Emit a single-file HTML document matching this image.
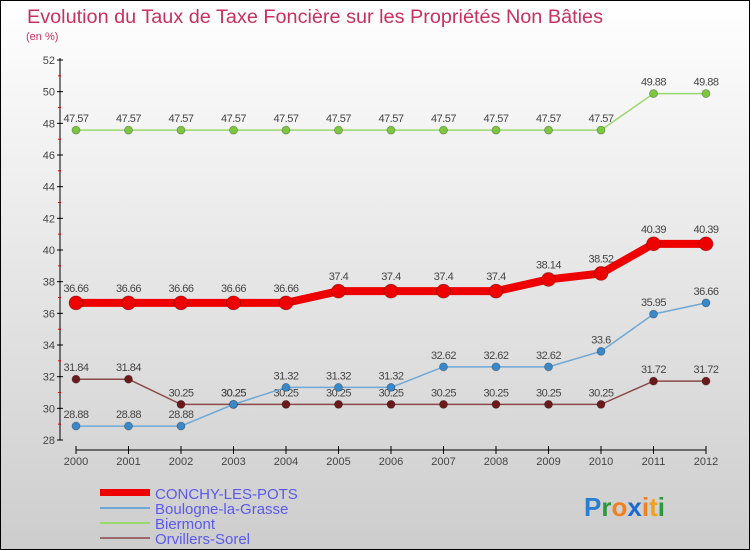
<!DOCTYPE html>
<html><head><meta charset="utf-8"><style>
body{margin:0;}
svg{display:block;font-family:"Liberation Sans",sans-serif;}
</style></head><body>
<svg id="chart" width="750" height="550" viewBox="0 0 750 550">
<defs><linearGradient id="bg" x1="0" y1="0" x2="0" y2="1"><stop offset="0" stop-color="#ffffff"/><stop offset="1" stop-color="#cdcdcd"/></linearGradient></defs>
<rect x="0.5" y="0.5" width="749" height="549" fill="url(#bg)" stroke="#000"/>
<text x="27" y="23" font-size="19" fill="#c8305f" textLength="576" lengthAdjust="spacingAndGlyphs">Evolution du Taux de Taxe Foncière sur les Propriétés Non Bâties</text>
<text x="26" y="40" font-size="11" fill="#c8305f">(en %)</text>
<g id="axes"></g>
<g id="series"></g>
<g id="legend">
<rect x="100" y="489" width="50" height="7" fill="#e00"/>
<text x="155" y="499" font-size="15" fill="#5a5af0">CONCHY-LES-POTS</text>
<line x1="100" x2="150" y1="508" y2="508" stroke="#6fa8d6" stroke-width="2"/>
<text x="155" y="514" font-size="15" fill="#5a5af0">Boulogne-la-Grasse</text>
<line x1="100" x2="150" y1="523" y2="523" stroke="#9ad86e" stroke-width="2"/>
<text x="155" y="529" font-size="15" fill="#5a5af0">Biermont</text>
<line x1="100" x2="150" y1="538" y2="538" stroke="#9a6a6a" stroke-width="2"/>
<text x="155" y="544" font-size="15" fill="#5a5af0">Orvillers-Sorel</text>
</g>
<g font-size="26" font-weight="bold">
<text x="584" y="516"><tspan fill="#2a7fd0">P</tspan><tspan fill="#2a9a3a">r</tspan><tspan fill="#f08020">o</tspan><tspan fill="#1a6ad0">x</tspan><tspan fill="#f08020">i</tspan><tspan fill="#f0a020">t</tspan><tspan fill="#2a9a3a">i</tspan></text>
</g>
</svg>
<script>
const years=[2000,2001,2002,2003,2004,2005,2006,2007,2008,2009,2010,2011,2012];
const yTicks=[28,30,32,34,36,38,40,42,44,46,48,50,52];
const conchy=[36.66,36.66,36.66,36.66,36.66,37.4,37.4,37.4,37.4,38.14,38.52,40.39,40.39];
const boulogne=[28.88,28.88,28.88,30.25,31.32,31.32,31.32,32.62,32.62,32.62,33.6,35.95,36.66];
const biermont=[47.57,47.57,47.57,47.57,47.57,47.57,47.57,47.57,47.57,47.57,47.57,49.88,49.88];
const orvillers=[31.84,31.84,30.25,30.25,30.25,30.25,30.25,30.25,30.25,30.25,30.25,31.72,31.72];
const NS="http://www.w3.org/2000/svg";
const xS=i=>76+i*(706-76)/(years.length-1);
const yS=v=>440-(v-28)*(380/24);
function mk(tag,attrs,parent){const e=document.createElementNS(NS,tag);for(const k in attrs)e.setAttribute(k,attrs[k]);parent.appendChild(e);return e;}
const ax=document.getElementById('axes');
let l=mk('line',{x1:60,x2:60,y1:58,y2:440,stroke:'#000'},ax);


yTicks.forEach((v,k)=>{
  mk('line',{x1:57,x2:63,y1:yS(v),y2:yS(v),stroke:'#000'},ax);
  if(k<yTicks.length-1) mk('line',{x1:58,x2:61,y1:yS(v+1),y2:yS(v+1),stroke:'#e00'},ax);
  const t=mk('text',{x:55,y:yS(v)+4,'font-size':11,fill:'#444','text-anchor':'end'},ax);
  t.textContent=v;
  
  
});
l=mk('line',{x1:76,x2:706,y1:450,y2:450,stroke:'#000'},ax);


years.forEach((y,i)=>{
  mk('line',{x1:xS(i),x2:xS(i),y1:446,y2:454,stroke:'#000'},ax);
  const t=mk('text',{x:xS(i),y:465,'font-size':11,fill:'#444','text-anchor':'middle'},ax);
  t.textContent=y;
  
  
});
const sg=document.getElementById('series');
function series(name,data,color,dot,width,r,labelOff){
  const g=mk('g',{},sg);
  
  
  const p=mk('polyline',{points:data.map((v,i)=>xS(i)+','+yS(v)).join(' '),fill:'none',stroke:color,'stroke-width':width,'stroke-linejoin':'round'},g);
  
  
  data.forEach((v,i)=>{
    const c=mk('circle',{cx:xS(i),cy:yS(v),r:r,fill:dot,stroke:'rgba(0,0,0,0.3)','stroke-width':0.8},g);
    
    
    const t=mk('text',{x:xS(i),y:yS(v)-labelOff,'font-size':11,fill:'#444','text-anchor':'middle','letter-spacing':'-0.5'},g);
    t.textContent=v;
    
    
  });
}
series('biermont',biermont,'#9ad86e','#7cc640',1.5,4,8);
series('orvillers',orvillers,'#8a4a4a','#6a1a1a',1.5,4,8);
series('boulogne',boulogne,'#6fa8d6','#3a88c8',1.5,4,8);
series('conchy',conchy,'#ee0000','#ee0000',8,7,11);
</script>
</body></html>
